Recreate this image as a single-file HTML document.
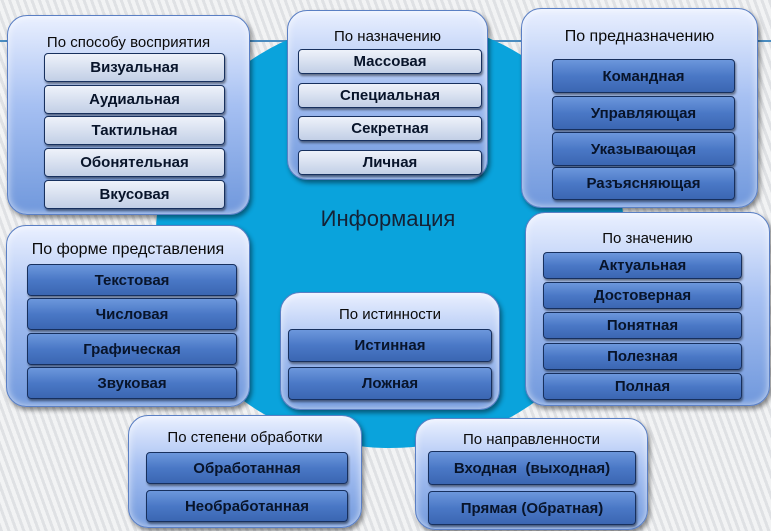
<!DOCTYPE html>
<html><head><meta charset="utf-8"><style>
*{margin:0;padding:0;box-sizing:border-box}
body{width:771px;height:531px;overflow:hidden;position:relative;font-family:"Liberation Sans",sans-serif;
background:repeating-linear-gradient(70deg,#dfe1e4 0 3px,#f2f3f4 3px 7px);}
.ell{position:absolute;left:156px;top:18px;width:468px;height:430px;border-radius:50%;background:#0aa3dc;}
.line{position:absolute;left:0;top:40px;width:771px;height:2px;background:#4a8cc0;}
.p{position:absolute;border-radius:20px;background:linear-gradient(#eaf0ff,#a6c0f2 45%,#7098dc);border:1px solid #5a7fc4;box-shadow:2px 3px 5px rgba(0,0,0,.45), inset 0 0 8px rgba(255,255,255,.7);}
.t{position:absolute;left:0;right:0;text-align:center;font-size:15px;color:#0a0a0a;}
.i{position:absolute;border-radius:4px;border:1px solid #17305e;text-align:center;font-size:15px;font-weight:bold;color:#08142a;display:flex;align-items:center;justify-content:center;box-shadow:1px 2px 2px rgba(0,0,0,.45)}
.d{background:linear-gradient(#6c97dc,#4a78c6 50%,#3b66b2);}
.l{background:linear-gradient(#eef2fa,#c2cfe6);}
.c{position:absolute;left:300px;top:206px;width:176px;text-align:center;font-size:22px;color:#142236;}
</style></head><body>
<div class="line"></div>
<div class="ell"></div>
<div class="c">Информация</div>

<div class="p" style="left:7px;top:15px;width:243px;height:200px"><div class="t" style="top:18px">По способу восприятия</div></div>
<div class="i l" style="left:44px;top:53px;width:181px;height:29px">Визуальная</div>
<div class="i l" style="left:44px;top:85px;width:181px;height:29px">Аудиальная</div>
<div class="i l" style="left:44px;top:116px;width:181px;height:29px">Тактильная</div>
<div class="i l" style="left:44px;top:148px;width:181px;height:29px">Обонятельная</div>
<div class="i l" style="left:44px;top:180px;width:181px;height:29px">Вкусовая</div>

<div class="p" style="left:287px;top:10px;width:201px;height:170px"><div class="t" style="top:17px">По назначению</div></div>
<div class="i l" style="left:298px;top:49px;width:184px;height:25px">Массовая</div>
<div class="i l" style="left:298px;top:83px;width:184px;height:25px">Специальная</div>
<div class="i l" style="left:298px;top:116px;width:184px;height:25px">Секретная</div>
<div class="i l" style="left:298px;top:150px;width:184px;height:25px">Личная</div>

<div class="p" style="left:521px;top:8px;width:237px;height:200px"><div class="t" style="top:19px;font-size:16px">По предназначению</div></div>
<div class="i d" style="left:552px;top:59px;width:183px;height:34px">Командная</div>
<div class="i d" style="left:552px;top:96px;width:183px;height:34px">Управляющая</div>
<div class="i d" style="left:552px;top:132px;width:183px;height:34px">Указывающая</div>
<div class="i d" style="left:552px;top:167px;width:183px;height:33px">Разъясняющая</div>

<div class="p" style="left:6px;top:225px;width:244px;height:182px"><div class="t" style="top:15px;font-size:16px">По форме представления</div></div>
<div class="i d" style="left:27px;top:264px;width:210px;height:32px">Текстовая</div>
<div class="i d" style="left:27px;top:298px;width:210px;height:32px">Числовая</div>
<div class="i d" style="left:27px;top:333px;width:210px;height:32px">Графическая</div>
<div class="i d" style="left:27px;top:367px;width:210px;height:32px">Звуковая</div>

<div class="p" style="left:525px;top:212px;width:245px;height:194px"><div class="t" style="top:17px">По значению</div></div>
<div class="i d" style="left:543px;top:252px;width:199px;height:27px">Актуальная</div>
<div class="i d" style="left:543px;top:282px;width:199px;height:27px">Достоверная</div>
<div class="i d" style="left:543px;top:312px;width:199px;height:27px">Понятная</div>
<div class="i d" style="left:543px;top:343px;width:199px;height:27px">Полезная</div>
<div class="i d" style="left:543px;top:373px;width:199px;height:27px">Полная</div>

<div class="p" style="left:280px;top:292px;width:220px;height:118px"><div class="t" style="top:13px">По истинности</div></div>
<div class="i d" style="left:288px;top:329px;width:204px;height:33px">Истинная</div>
<div class="i d" style="left:288px;top:367px;width:204px;height:33px">Ложная</div>

<div class="p" style="left:128px;top:415px;width:234px;height:113px"><div class="t" style="top:13px">По степени обработки</div></div>
<div class="i d" style="left:146px;top:452px;width:202px;height:32px">Обработанная</div>
<div class="i d" style="left:146px;top:490px;width:202px;height:32px">Необработанная</div>

<div class="p" style="left:415px;top:418px;width:233px;height:112px"><div class="t" style="top:12px">По направленности</div></div>
<div class="i d" style="left:428px;top:451px;width:208px;height:34px">Входная&nbsp; (выходная)</div>
<div class="i d" style="left:428px;top:491px;width:208px;height:34px">Прямая (Обратная)</div>
</body></html>
